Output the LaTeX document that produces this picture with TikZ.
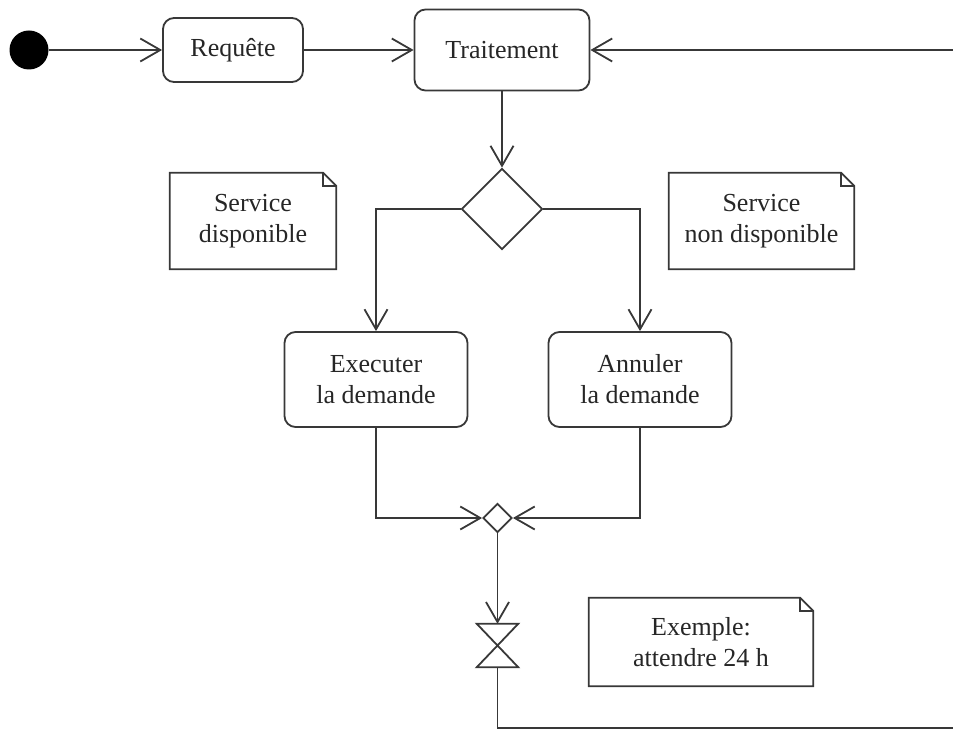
\documentclass[tikz,border=0pt]{standalone}
\usepackage{fontspec}
\setmainfont{Liberation Serif}
\usetikzlibrary{arrows.meta,shapes.geometric}
\definecolor{ink}{HTML}{383838}
\definecolor{txt}{HTML}{262626}
\begin{document}
\begin{tikzpicture}[x=1pt,y=-1pt,
  every node/.style={font=\fontsize{26}{31}\selectfont, text=txt, align=center, inner sep=0pt},
  action/.style={draw=ink, line width=1.8pt, rounded corners=11pt, fill=white},
  notebox/.style={draw=none},
  decision/.style={draw=ink, line width=1.8pt, diamond, aspect=1, fill=white},
  flow/.style={draw=ink, line width=1.8pt, -{Straight Barb[length=20pt,width=23pt]}},
  wire/.style={draw=ink, line width=1.8pt},
  notepath/.style={draw=ink, line width=1.8pt, line join=miter}
]
\useasboundingbox (0,0) rectangle (953,730);

% initial state
\node[circle, fill=black, minimum size=39pt] (start) at (29,50) {};

% actions
\node[action, minimum width=140pt, minimum height=64pt] (req) at (233,50) {Requête};
\node[action, minimum width=175pt, minimum height=81pt] (trait) at (502,50) {Traitement};
\node[action, minimum width=183pt, minimum height=95pt] (exe) at (376,379.5) {Executer\\la demande};
\node[action, minimum width=183pt, minimum height=95pt] (ann) at (640,379.5) {Annuler\\la demande};

% decision and merge
\node[decision, minimum size=81pt] (dec) at (502,209) {};
\node[decision, minimum size=29pt] (merge) at (497.5,518) {};

% time event (hourglass)
\node[minimum width=41pt, minimum height=43pt] (wait) at (497.5,645.5) {};
\draw[wire, line join=miter] (wait.north west) -- (wait.north east) -- (wait.south west) -- (wait.south east) -- cycle;

% notes
\node[notebox, minimum width=166pt, minimum height=96pt] (n1) at (253,221) {Service\\disponible};
\node[notebox, minimum width=185pt, minimum height=96pt] (n2) at (761.5,221) {Service\\non disponible};
\node[notebox, minimum width=224pt, minimum height=88pt] (n3) at (701,642) {Exemple:\\attendre 24 h};
\foreach \n in {n1,n2,n3}{
  \draw[notepath] (\n.north west) -- ([xshift=-13pt]\n.north east) -- ([yshift=-13pt]\n.north east)
    -- (\n.south east) -- (\n.south west) -- cycle;
  \draw[notepath] ([xshift=-13pt]\n.north east) -- ([xshift=-13pt,yshift=-13pt]\n.north east)
    -- ([yshift=-13pt]\n.north east);
}

% loop ends running off the right edge
\coordinate (loopin) at (953,50);
\coordinate (corner) at (497.5,728);
\coordinate (loopout) at (953,728);

% connectors
\draw[flow] (start) -- (req);
\draw[flow] (req) -- (trait);
\draw[flow] (loopin) -- (trait);
\draw[flow] (trait) -- (dec);
\draw[flow] (dec.west) -| (exe.north);
\draw[flow] (dec.east) -| (ann.north);
\draw[flow] (exe.south) |- (merge.west);
\draw[flow] (ann.south) |- (merge.east);
\draw[flow] (merge.south) -- (wait.north);
\draw[wire] (wait.south) -- (corner) -- (loopout);
\end{tikzpicture}
\end{document}
